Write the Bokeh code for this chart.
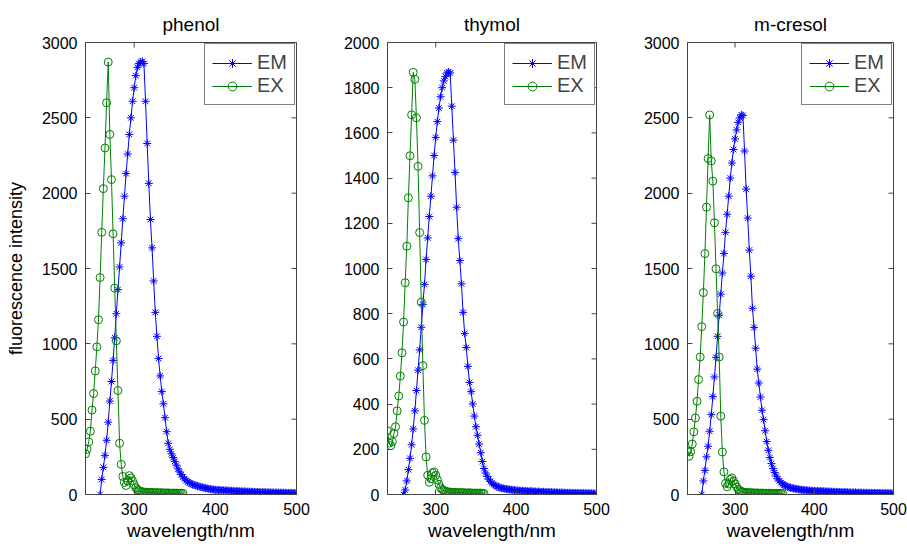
import math
from bokeh.plotting import figure
from bokeh.layouts import row
from bokeh.models import FixedTicker, Range1d
from bokeh.embed import file_html
from bokeh.resources import INLINE

FONT = "Liberation Sans"

# ---------------- data ----------------
titles = ["phenol", "thymol", "m-cresol"]
x_ticks = [300, 400, 500]
y_ticks_phenol = [0, 500, 1000, 1500, 2000, 2500, 3000]
y_ticks_thymol = [0, 200, 400, 600, 800, 1000, 1200, 1400, 1600, 1800, 2000]
y_ticks_cresol = [0, 500, 1000, 1500, 2000, 2500, 3000]

ex_wl = list(range(240, 361, 2))
em_wl_phenol = list(range(258, 501, 2))
em_wl_thymol = list(range(260, 501, 2))
em_wl_cresol = list(range(258, 501, 2))

em_phenol = [0, 100, 180, 260, 360, 480, 620, 750, 890, 1040, 1200, 1360, 1510, 1670, 1830, 1980,
             2130, 2260, 2390, 2500, 2610, 2700, 2780, 2835, 2860, 2870,
             2875, 2860,
             2610, 2330, 2065, 1825, 1637, 1417, 1209, 1050, 903, 787, 683, 602, 510, 417, 340, 300,
             270, 245, 220, 195, 170, 150, 132, 117, 104, 93, 84, 78, 72, 67, 63, 59, 56, 53, 50, 47,
             45, 42, 40, 38, 36, 34, 33, 31,
             30, 29, 30, 28, 27, 28, 26, 25, 26, 24, 24, 23, 22, 23, 21, 21, 20, 21, 19, 19,
             18, 19, 17, 17, 16, 17, 16, 15, 15, 16, 14, 14, 15, 13, 13, 14, 12, 12, 13, 12,
             11, 12, 11, 11, 10, 11, 10, 10, 10, 9]
ex_phenol = [270, 300, 350, 420, 560, 670, 820, 980, 1160, 1440, 1740, 2030, 2300, 2600, 2870,
             2390, 2090, 1730, 1370, 1020, 690, 340, 200, 120, 80, 60, 90, 125, 110, 90, 65, 45, 32, 25, 20, 18,
             16, 15, 14, 14, 13, 13, 12, 12, 12, 11, 11, 11, 10, 10, 10, 10, 9, 9, 9, 9, 9, 8, 8, 8, 8]

em_thymol = [0, 20, 60, 110, 160, 220, 290, 370, 460, 550, 640, 740, 840, 930, 1040, 1135, 1230, 1320,
             1410, 1500, 1580, 1650, 1710, 1760, 1800, 1830, 1850, 1865, 1870, 1865,
             1718, 1568, 1425, 1271, 1132, 1035, 932, 806, 713, 650, 567, 496, 455, 401, 347, 300, 262,
             223, 185, 146, 115, 95, 80, 68, 58, 50, 44, 40, 36, 33, 30,
             28, 27, 25, 24, 23, 22, 21, 20, 19, 18,
             18, 17, 17, 16, 16, 15, 15, 14, 15, 14, 13, 13, 12, 13, 12, 11, 12, 11, 10, 11,
             10, 10, 9, 10, 9, 9, 8, 9, 8, 8, 8, 7, 8, 7, 7, 7, 6, 7, 6, 6,
             6, 6, 5, 6, 5, 5, 5, 5, 4, 4]
ex_thymol = [282, 228, 216, 234, 270, 300, 370, 436, 524, 627, 763, 937, 1099, 1313, 1499, 1680, 1868,
             1837, 1667, 1452, 1159, 851, 570, 328, 166, 85, 54, 70, 95, 100, 85, 65, 45, 30, 22, 18, 15, 12,
             11, 10, 10, 9, 9, 9, 8, 8, 8, 8, 7, 7, 7, 7, 7, 6, 6, 6, 6, 6, 6, 5, 5]

em_cresol = [0, 90, 160, 250, 320, 420, 530, 650, 780, 910, 1050, 1190, 1330, 1470, 1600, 1740, 1860,
             1980, 2100, 2200, 2290, 2360, 2420, 2470, 2500, 2520,
             2515,
             2280, 2027, 1835, 1622, 1449, 1236, 1109, 971, 832, 740, 647, 559, 497, 423, 351,
             293, 245, 205, 172, 145, 122, 104, 90, 79, 70, 63, 57, 52, 48, 45, 42, 40, 38, 36, 34,
             33, 31, 30, 29, 28, 27, 26, 25, 24, 24,
             23, 23, 22, 22, 21, 22, 20, 20, 19, 20, 18, 18, 17, 18, 17, 16, 16, 15, 16, 15,
             14, 14, 14, 13, 13, 14, 12, 12, 13, 12, 11, 12, 11, 11, 10, 11, 10, 10, 10, 9,
             10, 9, 9, 9, 8, 9, 8, 8, 8, 8]
ex_cresol = [289, 254, 284, 335, 416, 508, 619, 763, 913, 1114, 1340, 1599, 1907, 2230, 2519,
             2214, 2080, 1803, 1498, 1202, 913, 520, 282, 150, 74, 51, 70, 100, 110, 90, 70, 50, 35, 25, 20, 16,
             14, 13, 12, 12, 11, 11, 10, 10, 10, 9, 9, 9, 9, 8, 8, 8, 8, 8, 7, 7, 7, 7, 7, 7, 7]

EM_COLOR = "#0000ff"
EX_COLOR = "#008000"
AX_COLOR = "#444444"
X_MIN, X_MAX = 240, 500


def make_panel(title, em_x, em_y, ex_x, ex_y, ymax, yticks, width, left, right, ylabel=None):
    p = figure(width=width, height=546, output_backend="svg", toolbar_location=None,
               x_range=Range1d(X_MIN, X_MAX), y_range=Range1d(0, ymax),
               min_border_left=left, min_border_right=right,
               min_border_top=42, min_border_bottom=52)
    p.background_fill_color = "white"
    p.border_fill_color = "white"
    p.outline_line_color = AX_COLOR
    p.grid.visible = False

    p.title.text = title
    p.title.align = "center"
    p.title.text_font = FONT
    p.title.text_font_size = "19px"
    p.title.text_font_style = "normal"
    p.title.text_color = "black"
    p.title.standoff = 15

    xa = p.xaxis[0]
    xa.ticker = FixedTicker(ticks=x_ticks)
    xa.axis_label = "wavelength/nm"
    ya = p.yaxis[0]
    ya.ticker = FixedTicker(ticks=yticks)
    if ylabel:
        ya.axis_label = ylabel
    for ax in (xa, ya):
        ax.axis_line_color = AX_COLOR
        ax.major_tick_line_color = AX_COLOR
        ax.major_tick_in = 5
        ax.major_tick_out = 0
        ax.minor_tick_line_color = None
        ax.major_label_text_font = FONT
        ax.major_label_text_font_size = "16px"
        ax.major_label_text_color = "black"
        ax.major_label_standoff = 8
        ax.axis_label_text_font = FONT
        ax.axis_label_text_font_style = "normal"
        ax.axis_label_text_color = "black"
    xa.axis_label_text_font_size = "19px"
    xa.axis_label_standoff = 2
    ya.axis_label_text_font_size = "18px"
    ya.axis_label_standoff = 13

    # inward tick marks on the top and right edges of the box (half of each dash is clipped)
    p.scatter(x_ticks, [ymax] * len(x_ticks), marker="dash", size=10, angle=math.pi / 2,
              line_color=AX_COLOR, line_width=1)
    p.scatter([X_MAX] * len(yticks), yticks, marker="dash", size=10,
              line_color=AX_COLOR, line_width=1)

    p.line(em_x, em_y, color=EM_COLOR, line_width=1, legend_label="EM")
    p.scatter(em_x, em_y, marker="asterisk", size=8, line_color=EM_COLOR, line_width=1,
              legend_label="EM")
    p.line(ex_x, ex_y, color=EX_COLOR, line_width=1, legend_label="EX")
    p.scatter(ex_x, ex_y, marker="circle", size=8, line_color=EX_COLOR, fill_color=None,
              line_width=1, legend_label="EX")

    lg = p.legend[0]
    lg.location = "top_right"
    lg.margin = 1
    lg.padding = 7
    lg.spacing = 0
    lg.glyph_width = 40
    lg.glyph_height = 22
    lg.label_height = 22
    lg.label_standoff = 5
    lg.label_text_font = FONT
    lg.label_text_font_size = "20px"
    lg.border_line_color = "black"
    lg.border_line_width = 1
    lg.background_fill_color = "white"
    lg.background_fill_alpha = 1
    return p


p1 = make_panel(titles[0], em_wl_phenol, em_phenol, ex_wl, ex_phenol, 3000, y_ticks_phenol,
                340, 85, 44, ylabel="fluorescence intensity")
p2 = make_panel(titles[1], em_wl_thymol, em_thymol, ex_wl, ex_thymol, 2000, y_ticks_thymol,
                300, 45, 44)
p3 = make_panel(titles[2], em_wl_cresol, em_cresol, ex_wl, ex_cresol, 3000, y_ticks_cresol,
                267, 44, 14)

layout = row(p1, p2, p3)
open("out.html", "w").write(file_html(layout, INLINE))
